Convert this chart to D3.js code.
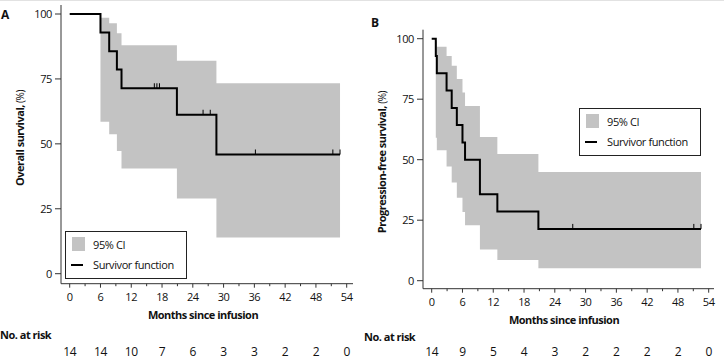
<!DOCTYPE html>
<html>
<head>
<meta charset="utf-8">
<script src="https://cdn.jsdelivr.net/npm/d3@7"></script>
<style>
  body { margin: 0; background: #fff; }
  svg { display: block; }
  text { font-family: "Open Sans", "Noto Sans", sans-serif; fill: #111; }
  .tick-lbl { font-size: 11px; letter-spacing: -0.4px; }
  .bold { font-weight: bold; letter-spacing: -0.5px; }
</style>
</head>
<body>
<div id="chart"></div>
<script>
// shared x ticks (months)
var monthTicks = [0, 6, 12, 18, 24, 30, 36, 42, 48, 54];
var survTicks = [0, 25, 50, 75, 100];

// panel A - overall survival
var osTime   = [0, 6, 7.7, 9.2, 10.1, 20.9, 28.6];
var osSurv   = [100, 92.9, 85.7, 78.6, 71.4, 61.2, 45.9];
var osEnd    = 52.7;
var osCensor = [16.5, 17, 17.5, 26, 27.4, 36.2, 51.3, 52.7];
var osCiTime  = [6, 7.7, 9.2, 10.1, 20.9, 28.6];
var osCiUpper = [98.6, 96.4, 92.6, 88, 82, 73.3];
var osCiLower = [58.5, 53.7, 47.2, 40.5, 29, 13.9];
var osAtRisk  = [14, 14, 10, 7, 6, 3, 3, 2, 2, 0];

// panel B - progression-free survival
var pfsTime   = [0, 0.8, 1.0, 2.9, 3.9, 4.9, 6.0, 6.5, 9.4, 12.8, 20.8];
var pfsSurv   = [100, 92.9, 85.7, 78.6, 71.4, 64.3, 57.1, 50, 35.7, 28.6, 21.4];
var pfsEnd    = 52.5;
var pfsCensor = [27.5, 51.1, 52.5];
var pfsCiTime  = [0.8, 1.0, 2.9, 3.9, 4.9, 6.0, 6.5, 9.4, 12.8, 20.8];
var pfsCiUpper = [98.9, 96.7, 92.9, 88.8, 83.3, 77.8, 72.2, 59.4, 52.4, 44.9];
var pfsCiLower = [59.1, 53.9, 47.2, 40.6, 34.3, 28.4, 22.9, 12.9, 8.6, 5.1];
var pfsAtRisk  = [14, 9, 5, 4, 3, 2, 2, 2, 2, 0];

var W = 724, H = 361;
var ciColor = "#c3c3c3";

var svg = d3.select("#chart").append("svg")
    .attr("width", W).attr("height", H);

// faint frame line at top of the figure
svg.append("line").attr("x1", 0).attr("x2", W).attr("y1", 0.5).attr("y2", 0.5)
    .attr("stroke", "#e2e2e2");

function drawPanel(p) {
  var x = d3.scaleLinear().domain([0, 54]).range([p.x0, p.x1]);
  var y = d3.scaleLinear().domain([0, 100]).range([p.y0, p.y1]);
  var g = svg.append("g");

  // CI band
  var ci = p.ciTime.map(function(t, i) { return {t: t, lo: p.ciLower[i], hi: p.ciUpper[i]}; });
  ci.push({t: p.end, lo: p.ciLower[p.ciLower.length - 1], hi: p.ciUpper[p.ciUpper.length - 1]});
  g.append("path").datum(ci)
      .attr("fill", ciColor)
      .attr("d", d3.area().curve(d3.curveStepAfter)
        .x(function(d) { return x(d.t); })
        .y0(function(d) { return y(d.lo); })
        .y1(function(d) { return y(d.hi); }));

  // survivor function
  var km = p.time.map(function(t, i) { return {t: t, s: p.surv[i]}; });
  km.push({t: p.end, s: p.surv[p.surv.length - 1]});
  g.append("path").datum(km)
      .attr("fill", "none").attr("stroke", "#000").attr("stroke-width", 2)
      .attr("d", d3.line().curve(d3.curveStepAfter)
        .x(function(d) { return x(d.t); })
        .y(function(d) { return y(d.s); }));

  // censor marks
  function survAt(t) {
    var s = p.surv[0];
    p.time.forEach(function(tt, i) { if (tt <= t) s = p.surv[i]; });
    return s;
  }
  g.selectAll(".cens").data(p.censor).enter().append("line")
      .attr("x1", function(d) { return x(d); }).attr("x2", function(d) { return x(d); })
      .attr("y1", function(d) { return y(survAt(d)) - 5; })
      .attr("y2", function(d) { return y(survAt(d)); })
      .attr("stroke", "#000").attr("stroke-width", 1);

  // y axis
  g.append("line").attr("x1", p.ax).attr("x2", p.ax)
      .attr("y1", y(100) - 9).attr("y2", p.axY)
      .attr("stroke", "#333");
  survTicks.forEach(function(v) {
    g.append("line").attr("x1", p.ax - 6).attr("x2", p.ax)
        .attr("y1", y(v)).attr("y2", y(v)).attr("stroke", "#333");
    g.append("text").attr("class", "tick-lbl")
        .attr("x", p.ax - 9).attr("y", y(v) + 4)
        .attr("text-anchor", "end").text(v);
  });

  // x axis
  g.append("line").attr("x1", p.ax).attr("x2", p.ax1)
      .attr("y1", p.axY).attr("y2", p.axY).attr("stroke", "#333");
  d3.range(0, 55, 3).forEach(function(m) {
    var major = m % 6 === 0;
    g.append("line").attr("x1", x(m)).attr("x2", x(m))
        .attr("y1", p.axY).attr("y2", p.axY + (major ? 4 : 2.5))
        .attr("stroke", "#333");
  });
  monthTicks.forEach(function(m) {
    g.append("text").attr("class", "tick-lbl")
        .attr("x", x(m)).attr("y", p.axY + 17)
        .attr("text-anchor", "middle").text(m);
  });

  g.append("text").attr("class", "bold").attr("font-size", 11)
      .attr("x", p.titleX).attr("y", p.axY + 35)
      .attr("text-anchor", "middle").text("Months since infusion");

  // y title: bold part + plain (%)
  var yt = g.append("text").attr("font-size", 11)
      .attr("transform", "translate(" + p.yTitleX + "," + p.yTitleY + ") rotate(-90)")
      .attr("text-anchor", "middle");
  yt.append("tspan").attr("font-weight", "bold").attr("letter-spacing", "-0.5px").text(p.yTitle);
  yt.append("tspan").attr("font-size", 10).attr("letter-spacing", "-0.4px").text(" (%)");

  // panel letter
  g.append("text").attr("font-weight", "bold").attr("font-size", 12)
      .attr("x", p.letterX).attr("y", p.letterY).text(p.letter);

  // number at risk
  g.append("text").attr("class", "bold").attr("font-size", 11)
      .attr("x", p.riskX).attr("y", p.riskY).text("No. at risk");
  g.selectAll(".risk").data(p.atRisk).enter().append("text")
      .attr("font-size", 12).attr("letter-spacing", "-0.3px")
      .attr("x", function(d, i) { return x(monthTicks[i]); })
      .attr("y", p.riskY + p.riskGap)
      .attr("text-anchor", "middle")
      .text(function(d) { return d; });

  // legend
  var lg = g.append("g").attr("transform", "translate(" + p.legX + "," + p.legY + ")");
  lg.append("rect").attr("x", 0.5).attr("y", 0.5).attr("width", 121).attr("height", 47)
      .attr("fill", "#fff").attr("stroke", "#222").attr("stroke-width", 1);
  lg.append("rect").attr("x", 7).attr("y", 6).attr("width", 13).attr("height", 14)
      .attr("fill", ciColor);
  lg.append("text").attr("class", "tick-lbl").attr("font-size", 11)
      .attr("x", 28).attr("y", 17.5).text("95% CI");
  lg.append("line").attr("x1", 6).attr("x2", 18).attr("y1", 34).attr("y2", 34)
      .attr("stroke", "#000").attr("stroke-width", 2);
  lg.append("text").attr("class", "tick-lbl").attr("font-size", 11)
      .attr("x", 28).attr("y", 37.5).text("Survivor function");
}

drawPanel({
  time: osTime, surv: osSurv, end: osEnd, censor: osCensor,
  ciTime: osCiTime, ciUpper: osCiUpper, ciLower: osCiLower, atRisk: osAtRisk,
  x0: 69.7, x1: 346.7, y0: 273.7, y1: 14,
  ax: 61, ax1: 353, axY: 283.7,
  titleX: 203, yTitle: "Overall survival,", yTitleX: 24, yTitleY: 138,
  letter: "A", letterX: 1, letterY: 19,
  riskX: 0, riskY: 339, riskGap: 17,
  legX: 65, legY: 231
});

drawPanel({
  time: pfsTime, surv: pfsSurv, end: pfsEnd, censor: pfsCensor,
  ciTime: pfsCiTime, ciUpper: pfsCiUpper, ciLower: pfsCiLower, atRisk: pfsAtRisk,
  x0: 431.7, x1: 708.7, y0: 280.7, y1: 38.7,
  ax: 423, ax1: 714, axY: 288.7,
  titleX: 564, yTitle: "Progression-free survival,", yTitleX: 386, yTitleY: 162,
  letter: "B", letterX: 371, letterY: 27,
  riskX: 364, riskY: 341, riskGap: 15,
  legX: 579, legY: 108
});
</script>
</body>
</html>
